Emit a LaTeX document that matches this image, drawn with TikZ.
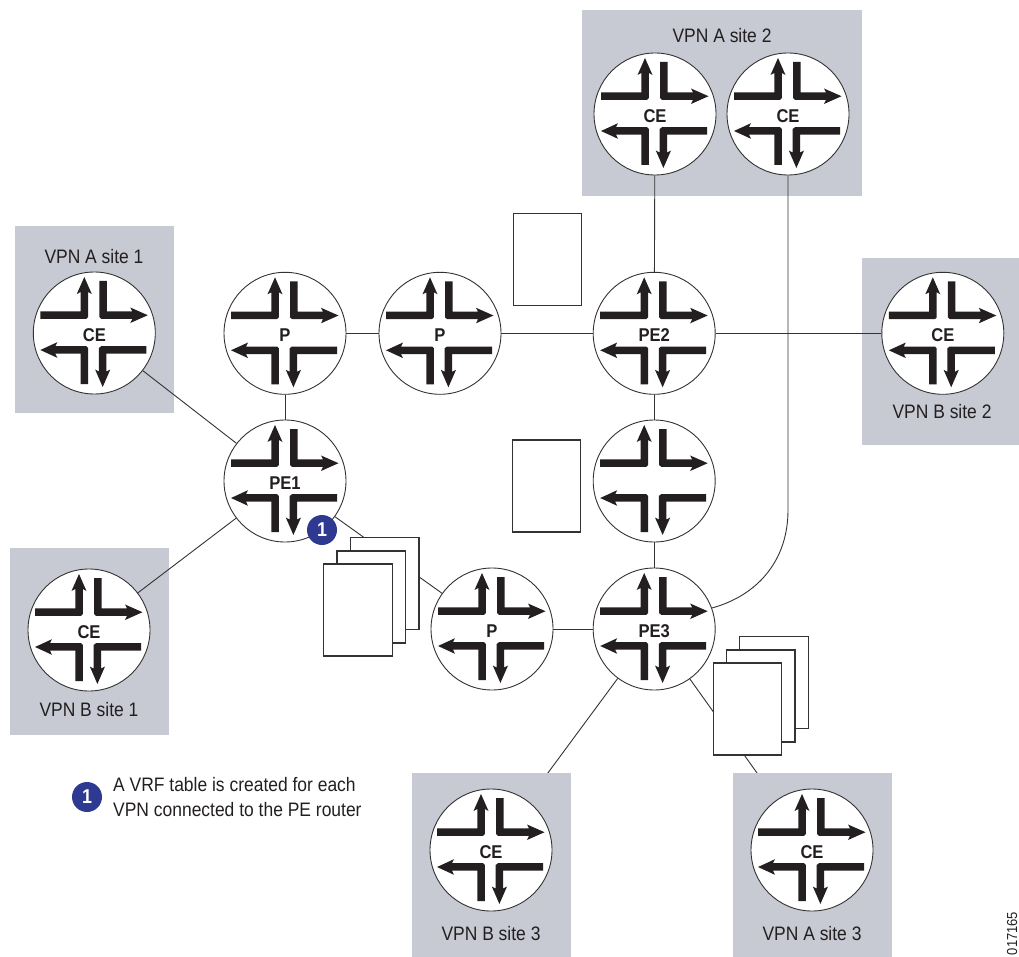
\documentclass[tikz,border=0pt]{standalone}
\usepackage{fontspec}
\setmainfont{Liberation Sans}[FakeStretch=0.895]
\pgfdeclarelayer{back}
\pgfsetlayers{back,main}
\definecolor{ink}{HTML}{231F20}
\definecolor{sitegray}{HTML}{C7CAD3}
\definecolor{badge}{HTML}{2E3A92}
\definecolor{wire}{HTML}{333333}
\tikzset{
  x=1pt,y=-1pt,
  router/.style={circle,draw=wire,line width=.9pt,fill=white,inner sep=0pt,minimum size=122pt},
  sitebox/.style={rectangle,fill=sitegray,inner sep=0pt,draw=none},
  paper/.style={rectangle,draw=wire,line width=1.1pt,fill=white,inner sep=0pt,minimum width=68.5pt,minimum height=92pt},
  wireline/.style={draw=wire,line width=.9pt},
  sitelabel/.style={inner sep=0pt,text=ink,font=\fontsize{19.5}{21}\selectfont},
  rlabel/.style={inner sep=0pt,text=ink,font=\fontsize{18.5}{20}\selectfont\bfseries},
  badgedot/.style={circle,fill=badge,text=white,inner sep=0pt,minimum size=30pt,font=\fontsize{20}{21}\selectfont\bfseries},
  arms/.pic={
    \fill[ink] (-54,-21.6)--(-13.6,-21.6)--(-13.6,-41)--(-17.5,-39)--(-10,-56)--(-2.5,-39)--(-6.1,-41)--(-6.1,-16)--(-8,-14.1)--(-54,-14.1)--cycle;
    \fill[ink] (5,-52)--(12.5,-52)--(12.5,-21.6)--(38,-21.6)--(36,-25.5)--(53.5,-17.8)--(36,-10)--(38,-14.1)--(7,-14.1)--(5,-16)--cycle;
    \fill[ink] (-54,17)--(-37,9.2)--(-39,13.2)--(-8,13.2)--(-6.1,15)--(-6.1,51)--(-13.6,51)--(-13.6,20.7)--(-39,20.7)--(-37,24.8)--cycle;
    \fill[ink] (52,13.2)--(7,13.2)--(4.6,15)--(4.6,38.5)--(0.8,36.5)--(8.4,54)--(16,36.5)--(12.1,38.5)--(12.1,20.7)--(52,20.7)--cycle;
  }
}
\newcommand{\routernode}[4]{%
  \node[router] (#1) at (#2,#3) {};
  \pic at (#1.center) {arms};
  \node[rlabel] (#1lab) at (#2,#3+1.7) {#4};
}
\begin{document}
\begin{tikzpicture}
\useasboundingbox (0,0) rectangle (1019,957);
% site boxes
\node[sitebox,minimum width=159pt,minimum height=187pt] (boxA1) at (94.5,319.5) {};
\node[sitebox,minimum width=280pt,minimum height=186pt] (boxA2) at (722,103) {};
\node[sitebox,minimum width=157pt,minimum height=187pt] (boxB2) at (940.5,351.5) {};
\node[sitebox,minimum width=159pt,minimum height=187pt] (boxB1) at (89.5,641.5) {};
\node[sitebox,minimum width=159pt,minimum height=186pt] (boxB3) at (491.5,866) {};
\node[sitebox,minimum width=159pt,minimum height=186pt] (boxA3) at (812.5,866) {};
% routers
\routernode{ceA1}{94.3}{333}{CE}
\routernode{ceA2a}{655}{114}{CE}
\routernode{ceA2b}{788}{114}{CE}
\routernode{ceB2}{942.8}{333.3}{CE}
\routernode{ceB1}{89}{630}{CE}
\routernode{ceB3}{491}{850}{CE}
\routernode{ceA3}{812}{850}{CE}
\routernode{p1}{285}{333.3}{P}
\routernode{p2}{440}{333.3}{P}
\routernode{p3}{492}{629}{P}
\routernode{pe1}{285}{481}{PE1}
\routernode{pe2}{654.2}{333.3}{PE2}
\routernode{pe3}{654.2}{629}{PE3}
\routernode{mid}{654.2}{481}{}
% connectors
\draw[wireline] (ceA1) -- (pe1);
\draw[wireline] (ceB1) -- (pe1);
\draw[wireline] (p1) -- (pe1);
\draw[wireline] (p1) -- (p2);
\draw[wireline] (p2) -- (pe2);
\draw[wireline] (pe2) -- (ceA2a);
\draw[wireline] (pe2) -- (ceB2);
\draw[wireline] (pe2) -- (mid);
\draw[wireline] (mid) -- (pe3);
\draw[wireline] (pe3) -- (p3);
\draw[wireline] (pe1) -- (p3);
\draw[wireline] (ceA2b.south) -- (788,510) .. controls (788,562) and (756,596) .. (pe3.20);
\begin{pgfonlayer}{back}
\draw[wireline] (pe3) -- (ceB3);
\draw[wireline] (pe3) -- (ceA3);
\end{pgfonlayer}
% tables
\node[paper] (tabA) at (547.5,259.5) {};
\node[paper] (tabB) at (546.5,486) {};
\node[paper] (s1c) at (384.7,583.5) {};
\node[paper] (s1b) at (371.2,597) {};
\node[paper] (s1a) at (358,610) {};
\node[paper] (s2c) at (774,682.5) {};
\node[paper] (s2b) at (760.7,696) {};
\node[paper] (s2a) at (747.5,709) {};
% badges
\node[badgedot] (b1) at (322,530) {1};
\node[badgedot] (b2) at (87,797) {1};
% labels
\node[sitelabel] (lA1) at (94,257) {VPN A site 1};
\node[sitelabel] (lA2) at (722,36) {VPN A site 2};
\node[sitelabel] (lB2) at (942,412) {VPN B site 2};
\node[sitelabel] (lB1) at (89,710) {VPN B site 1};
\node[sitelabel] (lB3) at (491,934) {VPN B site 3};
\node[sitelabel] (lA3) at (812,934) {VPN A site 3};
\node[sitelabel,anchor=base west] (leg1) at (113,791) {A VRF table is created for each};
\node[sitelabel,anchor=base west] (leg2) at (113,816) {VPN connected to the PE router};
\node[inner sep=0pt,text=ink,rotate=90,font=\fontsize{14.5}{15}\selectfont] (code) at (1012,933.5) {017165};
\end{tikzpicture}
\end{document}
